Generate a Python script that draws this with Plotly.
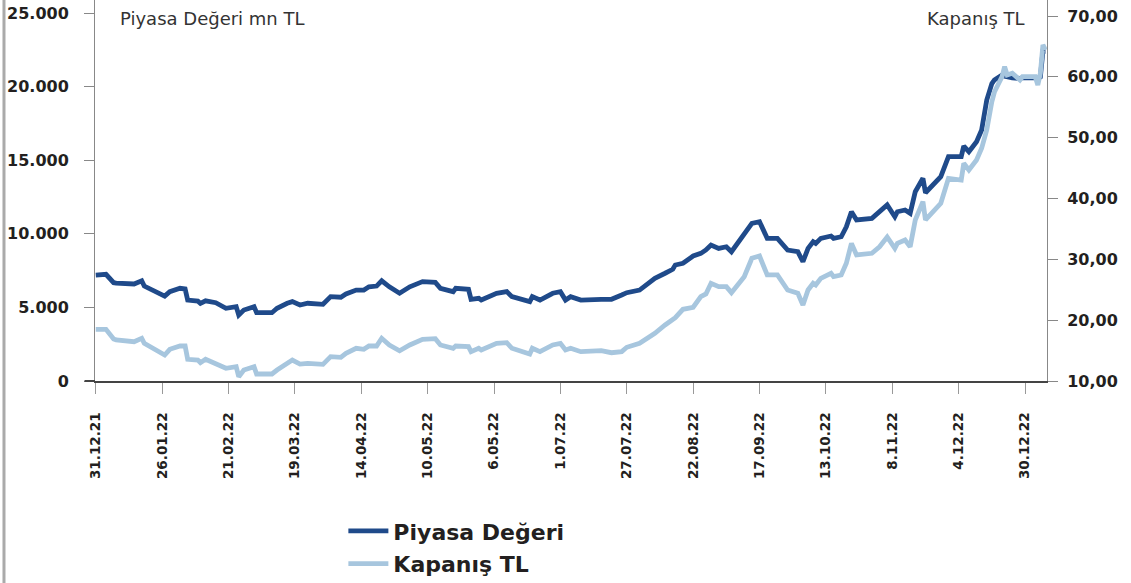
import pandas as pd
import plotly.graph_objects as go

start = pd.Timestamp("2021-12-31")

# day offsets from 31.12.2021
days = [0, 4, 7, 8, 15, 18, 19, 27, 29, 33, 35, 36, 40, 41, 43, 47, 51, 55, 56, 58,
        62, 63, 69, 71, 75, 77, 80, 83, 89, 92, 96, 98, 102, 105, 107, 110, 112, 115,
        119, 123, 128, 133, 135, 140, 141, 146, 147, 150, 151, 157, 161, 163, 170, 171,
        174, 179, 182, 184, 186, 190, 198, 202, 206, 208, 213, 219, 223, 226, 227, 230,
        234, 237, 239, 241, 244, 247, 249, 254, 257, 260, 263, 267, 271, 275, 277, 279,
        281, 282, 284, 288, 289, 292, 294, 296, 298, 304, 307, 310, 313, 314, 317, 319,
        321, 324, 325, 331, 334, 339, 340, 342, 345, 347, 349, 351, 352, 354, 355, 356,
        357, 359, 362, 363, 368, 369, 370, 371, 372]

piyasa_degeri = [7200, 7250, 6680, 6650, 6590, 6810, 6450, 5770, 6070, 6300, 6250, 5500,
                 5430, 5280, 5450, 5320, 4940, 5050, 4480, 4820, 5050, 4640, 4640, 4940,
                 5280, 5390, 5160, 5280, 5210, 5730, 5690, 5910, 6180, 6180, 6400, 6450,
                 6810, 6400, 5960, 6400, 6750, 6700, 6300, 6070, 6300, 6230, 5550, 5620,
                 5500, 5960, 6070, 5730, 5390, 5730, 5500, 5960, 6070, 5500, 5730, 5500,
                 5550, 5550, 5840, 6000, 6180, 6980, 7320, 7590, 7880, 8000, 8490, 8670,
                 8900, 9240, 9010, 9120, 8780, 9920, 10710, 10820, 9690, 9690, 8900, 8780,
                 8100, 9010, 9460, 9350, 9690, 9850, 9690, 9800, 10480, 11500, 10940, 11050,
                 11500, 11960, 11160, 11500, 11620, 11390, 12860, 13770, 12790, 13880, 15240,
                 15240, 15960, 15580, 16260, 17050, 19090, 20200, 20450, 20700, 20790, 20700,
                 20650, 20600, 20550, 20600, 20600, 20550, 20650, 22400, 22400]

kapanis = [18.50, 18.50, 16.90, 16.74, 16.46, 17.02, 16.19, 14.27, 15.21, 15.75, 15.75,
           13.57, 13.45, 13.01, 13.57, 12.90, 12.09, 12.35, 10.71, 11.81, 12.35, 11.15,
           11.15, 11.81, 13.01, 13.45, 12.79, 12.90, 12.74, 14.00, 13.89, 14.55, 15.38,
           15.21, 15.75, 15.75, 17.02, 15.92, 14.96, 15.92, 16.85, 16.96, 15.92, 15.38,
           15.75, 15.64, 14.82, 15.38, 15.10, 16.19, 16.30, 15.38, 14.44, 15.38, 14.82,
           15.92, 16.19, 15.10, 15.38, 14.82, 14.98, 14.65, 14.82, 15.54, 16.19, 17.84,
           19.21, 20.03, 20.41, 21.79, 22.12, 23.86, 24.31, 26.06, 25.51, 25.51, 24.52,
           27.15, 30.17, 30.55, 27.43, 27.43, 24.96, 24.42, 22.49, 24.96, 26.06, 25.78,
           26.88, 27.70, 27.15, 27.43, 29.35, 32.62, 30.71, 30.99, 32.07, 33.67, 31.81,
           32.62, 33.18, 32.07, 36.47, 39.48, 36.47, 39.21, 43.32, 43.04, 45.79, 44.69,
           46.33, 48.25, 51.26, 55.92, 57.50, 59.20, 60.02, 61.67, 60.30, 60.58, 59.48,
           60.02, 60.02, 58.66, 60.58, 65.24, 64.42]

tick_days = [0, 26, 52, 78, 104, 130, 156, 182, 208, 234, 260, 286, 312, 338, 364]
tick_labels = ["31.12.21", "26.01.22", "21.02.22", "19.03.22", "14.04.22", "10.05.22",
               "6.05.22", "1.07.22", "27.07.22", "22.08.22", "17.09.22", "13.10.22",
               "8.11.22", "4.12.22", "30.12.22"]

left_ticks = [0, 5000, 10000, 15000, 20000, 25000]
left_labels = ["0", "5.000", "10.000", "15.000", "20.000", "25.000"]
right_ticks = [10, 20, 30, 40, 50, 60, 70]
right_labels = ["10,00", "20,00", "30,00", "40,00", "50,00", "60,00", "70,00"]

dates = start + pd.to_timedelta(days, unit="D")
tick_dates = start + pd.to_timedelta(tick_days, unit="D")

DARK = "#1f4a8a"
LIGHT = "#a7c6de"
FONT = "DejaVu Sans"
INK = "#231f20"

fig = go.Figure()
fig.add_trace(go.Scatter(x=dates, y=piyasa_degeri, name="Piyasa Değeri", mode="lines",
                         line=dict(color=DARK, width=4.8), yaxis="y", legendgroup="a"))
fig.add_trace(go.Scatter(x=dates, y=kapanis, name="Kapanış TL", mode="lines",
                         line=dict(color=LIGHT, width=4.8), yaxis="y2", legendgroup="b"))

x0 = start + pd.Timedelta(days=-0.3)
x1 = start + pd.Timedelta(days=372.6)

fig.update_layout(
    width=1131, height=583,
    margin=dict(l=95, r=84, t=0, b=202, autoexpand=False),
    paper_bgcolor="white", plot_bgcolor="white",
    font=dict(family=FONT, color=INK),
    showlegend=True,
    legend=dict(xref="container", yref="container", x=0.3036, y=0.125,
                xanchor="left", yanchor="top",
                font=dict(family=FONT, size=22, color=INK, weight="bold"),
                tracegroupgap=1, itemwidth=40, bgcolor="rgba(0,0,0,0)"),
    xaxis=dict(range=[x0, x1], tickmode="array", tickvals=tick_dates, ticktext=tick_labels,
               tickangle=-90, ticks="outside", ticklen=11, tickcolor="#999", tickwidth=1,
               showline=True, linecolor="#444", linewidth=2, showgrid=False, zeroline=False,
               automargin=False,
               tickfont=dict(family=FONT, size=13.5, color=INK, weight="bold"),
               ticklabelstandoff=13),
    yaxis=dict(range=[0, 25883], tickmode="array", tickvals=left_ticks, ticktext=left_labels,
               ticks="outside", ticklen=10, tickcolor="#888", showline=True, linecolor="#888",
               linewidth=1, showgrid=False, zeroline=False, automargin=False,
               tickfont=dict(family=FONT, size=16, color=INK, weight="bold"),
               ticklabelstandoff=12),
    yaxis2=dict(range=[10, 72.63], overlaying="y", side="right", tickmode="array",
                tickvals=right_ticks, ticktext=right_labels, ticks="outside", ticklen=10,
                tickcolor="#888", showline=True, linecolor="#888", linewidth=1,
                showgrid=False, zeroline=False, automargin=False,
                tickfont=dict(family=FONT, size=16, color=INK, weight="bold"),
                ticklabelstandoff=6),
    annotations=[
        dict(text="Piyasa Değeri mn TL", xref="paper", yref="paper", x=0.024, y=0.985,
             xanchor="left", yanchor="top", showarrow=False,
             font=dict(family=FONT, size=18, color="#333")),
        dict(text="Kapanış TL", xref="paper", yref="paper", x=0.979, y=0.985,
             xanchor="right", yanchor="top", showarrow=False,
             font=dict(family=FONT, size=18, color="#333")),
    ],
    shapes=[
        dict(type="line", xref="paper", yref="paper", x0=-0.0956, x1=-0.0956, y0=-0.53, y1=1,
             line=dict(color="#aaa", width=3)),
        dict(type="line", xref="paper", yref="paper", x0=-0.011, x1=0, y0=0, y1=0,
             line=dict(color="#444", width=2)),
    ],
)

fig.write_html("out.html", config={"displayModeBar": False},
               post_script="document.body.style.margin='0';document.body.style.overflow='hidden';")
